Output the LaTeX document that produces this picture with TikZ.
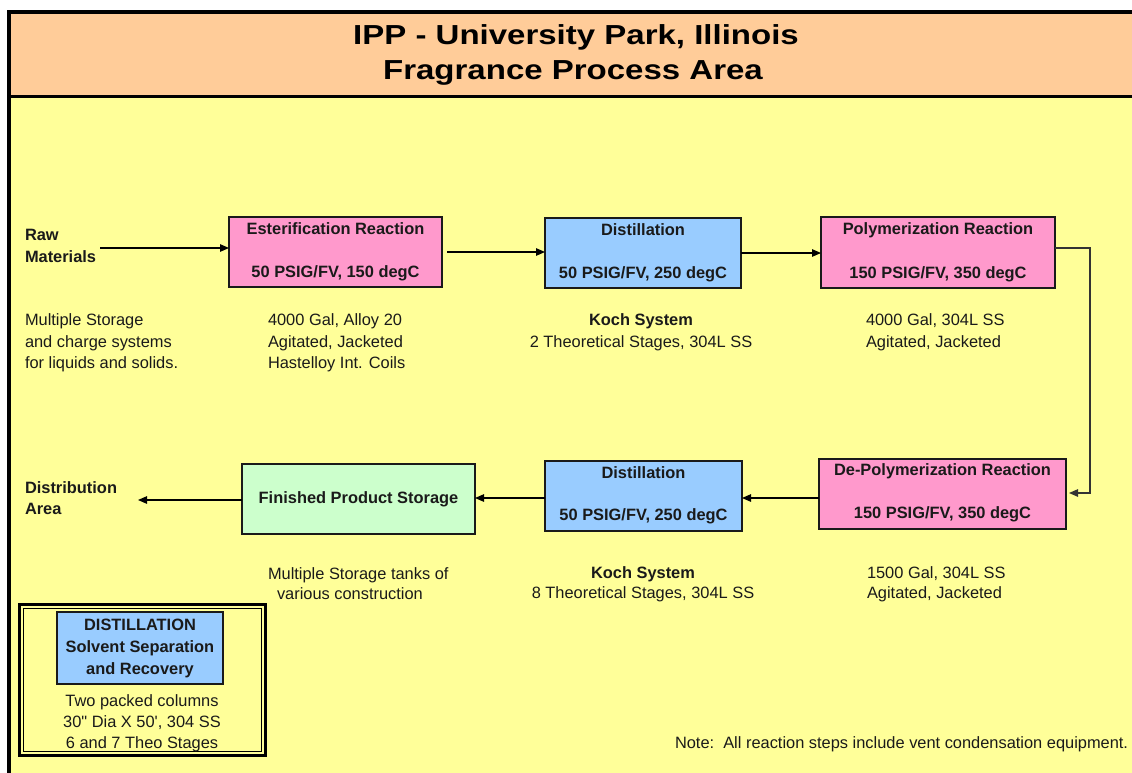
\documentclass[tikz,border=0pt]{standalone}
\usepackage{fontspec}
\setmainfont{Liberation Sans}[Ligatures=TeXOff]
\newfontfamily\titlefont{Liberation Sans}[Ligatures=TeXOff,FakeStretch=1.2]
\usetikzlibrary{arrows.meta,calc}
\definecolor{bandorange}{HTML}{FFCC99}
\definecolor{bgyellow}{HTML}{FFFF99}
\definecolor{boxpink}{HTML}{FF99CC}
\definecolor{boxblue}{HTML}{99CCFF}
\definecolor{boxgreen}{HTML}{CCFFCC}
\definecolor{inkdark}{HTML}{1A1A1A}
\tikzset{
  every node/.style={inner sep=0pt, outer sep=0pt, text=inkdark},
  txt/.style={font=\fontsize{16.4}{19}\selectfont, anchor=base west},
  txtc/.style={font=\fontsize{16.4}{19}\selectfont, anchor=base},
  btxt/.style={font=\fontsize{16.4}{19}\selectfont\bfseries, anchor=base west},
  btxtc/.style={font=\fontsize{16.4}{19}\selectfont\bfseries, anchor=base},
  procbox/.style={draw=inkdark, line width=1.2pt, rectangle},
  arr/.style={draw=black, line width=1.2pt, -{Triangle[length=9pt,width=7.5pt]}},
  titletxt/.style={font=\titlefont\bfseries\fontsize{27.5}{33}\selectfont, anchor=base, text=black}
}
\begin{document}
\begin{tikzpicture}[x=1pt,y=-1pt]
\useasboundingbox (0,0) rectangle (1132,772);
\clip (0,0) rectangle (1132,772);
% background
\fill[white] (0,0) rectangle (1132,772);
\fill[bgyellow] (9,97) rectangle (1140,780);
\fill[bandorange] (9,12) rectangle (1140,97);
\draw[line width=4pt, black] (9,780) -- (9,12);
\draw[line width=4pt, black] (7,12) -- (1140,12);
\draw[line width=3.5pt, black] (7,96.5) -- (1140,96.5);
% title
\node[titletxt] (title1) at (576,44) {IPP - University Park, Illinois};
\node[titletxt] (title2) at (573,79) {Fragrance Process Area};

% process boxes row 1
\node[procbox, fill=boxpink, minimum width=213pt, minimum height=70pt] (ester) at (335.5,252) {};
\node[procbox, fill=boxblue, minimum width=196pt, minimum height=70pt] (dist1) at (643,253) {};
\node[procbox, fill=boxpink, minimum width=234pt, minimum height=71pt] (poly) at (938,252.5) {};
% row 2
\node[procbox, fill=boxpink, minimum width=247pt, minimum height=70pt] (depoly) at (942.5,494) {};
\node[procbox, fill=boxblue, minimum width=197pt, minimum height=70pt] (dist2) at (643.5,496) {};
\node[procbox, fill=boxgreen, minimum width=233pt, minimum height=70pt, font=\fontsize{16.4}{19}\selectfont\bfseries] (fps) at (358.5,499) {Finished Product Storage};

% box texts
\node[btxtc] (esterT) at ($(ester.north)+(0,17)$) {Esterification Reaction};
\node[btxtc] (esterB) at ($(ester.south)+(0,-10)$) {50 PSIG/FV, 150 degC};
\node[btxtc] (dist1T) at ($(dist1.north)+(0,17)$) {Distillation};
\node[btxtc] (dist1B) at ($(dist1.south)+(0,-10)$) {50 PSIG/FV, 250 degC};
\node[btxtc] (polyT) at ($(poly.north)+(0,17.5)$) {Polymerization Reaction};
\node[btxtc] (polyB) at ($(poly.south)+(0,-10)$) {150 PSIG/FV, 350 degC};
\node[btxtc] (depolyT) at ($(depoly.north)+(0,16.5)$) {De-Polymerization Reaction};
\node[btxtc] (depolyB) at ($(depoly.south)+(0,-11)$) {150 PSIG/FV, 350 degC};
\node[btxtc] (dist2T) at ($(dist2.north)+(0,17)$) {Distillation};
\node[btxtc] (dist2B) at ($(dist2.south)+(0,-10.5)$) {50 PSIG/FV, 250 degC};

% side labels
\node[btxt] (raw1) at (25,240.5) {Raw};
\node[btxt] (raw2) at (25,262.5) {Materials};
\node[btxt] (distr1) at (25,493.5) {Distribution};
\node[btxt] (distr2) at (25,514.5) {Area};

% descriptions row 1
\node[txt] (ms1) at (25,325) {Multiple Storage};
\node[txt] (ms2) at (25,347) {and charge systems};
\node[txt] (ms3) at (25,368) {for liquids and solids.};
\node[txt] (ed1) at (268,325) {4000 Gal, Alloy 20};
\node[txt] (ed2) at (268,347) {Agitated, Jacketed};
\node[txt] (ed3) at (268,368) {Hastelloy Int. Coils};
\node[btxtc] (k1a) at (641,325.5) {Koch System};
\node[txtc] (k1b) at (641,347.5) {2 Theoretical Stages, 304L SS};
\node[txt] (pd1) at (866,325.5) {4000 Gal, 304L SS};
\node[txt] (pd2) at (866,347.5) {Agitated, Jacketed};

% descriptions row 2
\node[txt] (fs1) at (268,579) {Multiple Storage tanks of};
\node[txt] (fs2) at (277,599) {various construction};
\node[btxtc] (k2a) at (643,578.5) {Koch System};
\node[txtc] (k2b) at (643,598.5) {8 Theoretical Stages, 304L SS};
\node[txt] (dd1) at (867,578.5) {1500 Gal, 304L SS};
\node[txt] (dd2) at (867,598.5) {Agitated, Jacketed};

% connectors row 1
\coordinate (rawS) at (100,248);
\draw[arr] (rawS) -- (rawS -| ester.west);
\draw[arr, shorten <=5pt] (ester.east) -- (ester.east -| dist1.west);
\draw[arr] (dist1.east) -- (dist1.east -| poly.west);
% loop down
\coordinate (c1) at (1090,248);
\coordinate (c2) at (1090,493);
\draw[arr, draw=black!80, shorten >=3pt] (c1 -| poly.east) -- (c1) -- (c2) -- (c2 -| depoly.east);
% row 2
\coordinate (r2) at (0,498);
\coordinate (r2b) at (0,500);
\coordinate (distE) at (138,500);
\draw[arr] (depoly.west |- r2) -- (dist2.east |- r2);
\draw[arr] (dist2.west |- r2) -- (fps.east |- r2);
\draw[arr] (fps.west |- r2b) -- (distE);

% solvent recovery inset
\node[draw=black, line width=3pt, minimum width=246pt, minimum height=151pt] (frameO) at (142.5,680) {};
\node[draw=black, line width=1.2pt, minimum width=238pt, minimum height=143pt] (frameI) at (142.5,680) {};
\node[procbox, fill=boxblue, minimum width=166pt, minimum height=72pt, align=center, font=\fontsize{16.4}{22}\selectfont\bfseries] (solv) at (140,648) {DISTILLATION\\Solvent Separation\\and Recovery};
\node[txtc] (sv1) at (142,706.5) {Two packed columns};
\node[txtc] (sv2) at (142,727.5) {30" Dia X 50', 304 SS};
\node[txtc] (sv3) at (142,748.5) {6 and 7 Theo Stages};

% note
\node[txt] (note) at (675,748.5) {Note:\ \ All reaction steps include vent condensation equipment.};
\end{tikzpicture}
\end{document}
